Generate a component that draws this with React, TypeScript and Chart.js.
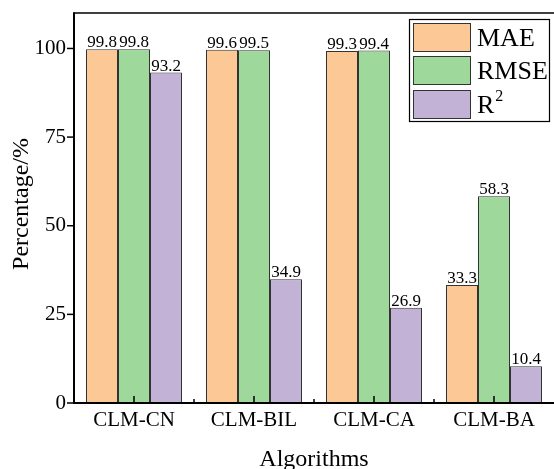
import React, { useEffect, useRef } from 'react';
import { Chart, registerables } from 'chart.js';

Chart.register(...registerables);

const categories = ['CLM-CN', 'CLM-BIL', 'CLM-CA', 'CLM-BA'];
const maeValues = [99.8, 99.6, 99.3, 33.3];
const rmseValues = [99.8, 99.5, 99.4, 58.3];
const r2Values = [93.2, 34.9, 26.9, 10.4];
const yTicks = [0, 25, 50, 75, 100];
const seriesNames = ['MAE', 'RMSE', 'R'];
const seriesColors = ['#FCC896', '#9ED89B', '#C2B2D6'];

const FONT = "'Liberation Serif', 'Times New Roman', serif";

export default function App() {
  const ref = useRef<HTMLCanvasElement>(null);

  useEffect(() => {
    document.body.style.margin = '0';
    const canvas = ref.current!;

    const overlay = {
      id: 'overlay',
      afterDraw(chart: any) {
        const ctx = chart.ctx as CanvasRenderingContext2D;
        const area = chart.chartArea;
        const xScale = chart.scales.x;
        ctx.save();

        // data labels
        ctx.fillStyle = '#000';
        ctx.font = `17px ${FONT}`;
        ctx.textAlign = 'center';
        ctx.textBaseline = 'alphabetic';
        chart.data.datasets.forEach((ds: any, di: number) => {
          const meta = chart.getDatasetMeta(di);
          meta.data.forEach((bar: any, i: number) => {
            ctx.fillText(Number(ds.data[i]).toFixed(1), bar.x, bar.y - 2);
          });
        });

        // frame
        ctx.strokeStyle = '#000';
        ctx.lineWidth = 1.5;
        ctx.beginPath();
        ctx.moveTo(area.left, area.top);
        ctx.lineTo(area.right, area.top);
        ctx.stroke();
        ctx.lineWidth = 2;
        ctx.beginPath();
        ctx.moveTo(area.left, area.top - 0.75);
        ctx.lineTo(area.left, area.bottom);
        ctx.lineTo(area.right, area.bottom);
        ctx.stroke();

        // y ticks (outside)
        const yScale = chart.scales.y;
        ctx.lineWidth = 1.5;
        yTicks.forEach((v) => {
          const y = yScale.getPixelForValue(v);
          ctx.beginPath();
          ctx.moveTo(area.left - 7, y);
          ctx.lineTo(area.left, y);
          ctx.stroke();
        });

        // x ticks (inside)
        categories.forEach((_, i) => {
          const x = xScale.getPixelForValue(i);
          ctx.beginPath();
          ctx.moveTo(x, area.bottom);
          ctx.lineTo(x, area.bottom - 7);
          ctx.stroke();
          if (i > 0) {
            const xb = (x + xScale.getPixelForValue(i - 1)) / 2;
            ctx.beginPath();
            ctx.moveTo(xb, area.bottom);
            ctx.lineTo(xb, area.bottom - 4);
            ctx.stroke();
          }
        });

        // axis titles
        ctx.fillStyle = '#000';
        ctx.font = `24px ${FONT}`;
        ctx.textAlign = 'center';
        ctx.textBaseline = 'alphabetic';
        ctx.fillText('Algorithms', (area.left + area.right) / 2, 466);
        ctx.save();
        ctx.translate(28, (area.top + area.bottom) / 2 - 4);
        ctx.rotate(-Math.PI / 2);
        ctx.fillText('Percentage/%', 0, 0);
        ctx.restore();

        // legend
        ctx.lineWidth = 1.2;
        ctx.strokeStyle = '#000';
        ctx.strokeRect(409.5, 19.5, 140, 102);
        const rowsTop = [23, 56, 90];
        seriesNames.forEach((name, i) => {
          const top = rowsTop[i];
          ctx.fillStyle = seriesColors[i];
          ctx.fillRect(413, top, 57, 28);
          ctx.strokeStyle = '#333';
          ctx.lineWidth = 1;
          ctx.strokeRect(413.5, top + 0.5, 57, 28);
          ctx.fillStyle = '#000';
          ctx.font = `26px ${FONT}`;
          ctx.textAlign = 'left';
          ctx.textBaseline = 'alphabetic';
          ctx.fillText(name, 477, top + 23);
          if (i === 2) {
            const w = ctx.measureText(name).width;
            ctx.font = `16px ${FONT}`;
            ctx.fillText('2', 477 + w + 1, top + 11);
          }
        });

        ctx.restore();
      },
    };

    const chart = new Chart(canvas, {
      type: 'bar',
      data: {
        labels: categories,
        datasets: [
          { label: 'MAE', data: maeValues, backgroundColor: seriesColors[0], borderColor: '#333', borderWidth: 1 },
          { label: 'RMSE', data: rmseValues, backgroundColor: seriesColors[1], borderColor: '#333', borderWidth: 1 },
          { label: 'R²', data: r2Values, backgroundColor: seriesColors[2], borderColor: '#333', borderWidth: 1 },
        ],
      },
      options: {
        responsive: false,
        devicePixelRatio: 1,
        animation: false,
        layout: { padding: { top: 13, right: 0, left: 0, bottom: 0 } },
        datasets: { bar: { categoryPercentage: 0.8, barPercentage: 1 } },
        plugins: { legend: { display: false }, tooltip: { enabled: false }, title: { display: false } },
        scales: {
          x: {
            grid: { display: false, drawTicks: false },
            border: { display: false },
            ticks: { color: '#000', font: { family: FONT, size: 21 }, padding: 5, maxRotation: 0 },
            afterFit: (s: any) => { s.height = 66; s.paddingLeft = 0; s.paddingRight = 0; },
          },
          y: {
            min: 0,
            max: 110,
            grid: { display: false, drawTicks: false },
            border: { display: false },
            ticks: { color: '#000', font: { family: FONT, size: 21 }, padding: 8 },
            afterBuildTicks: (s: any) => { s.ticks = yTicks.map((v) => ({ value: v })); },
            afterFit: (s: any) => { s.width = 74; s.paddingTop = 0; s.paddingBottom = 0; },
          },
        },
      },
      plugins: [overlay],
    } as any);

    return () => chart.destroy();
  }, []);

  return <canvas ref={ref} width={554} height={469} style={{ display: 'block', width: 554, height: 469 }} />;
}
